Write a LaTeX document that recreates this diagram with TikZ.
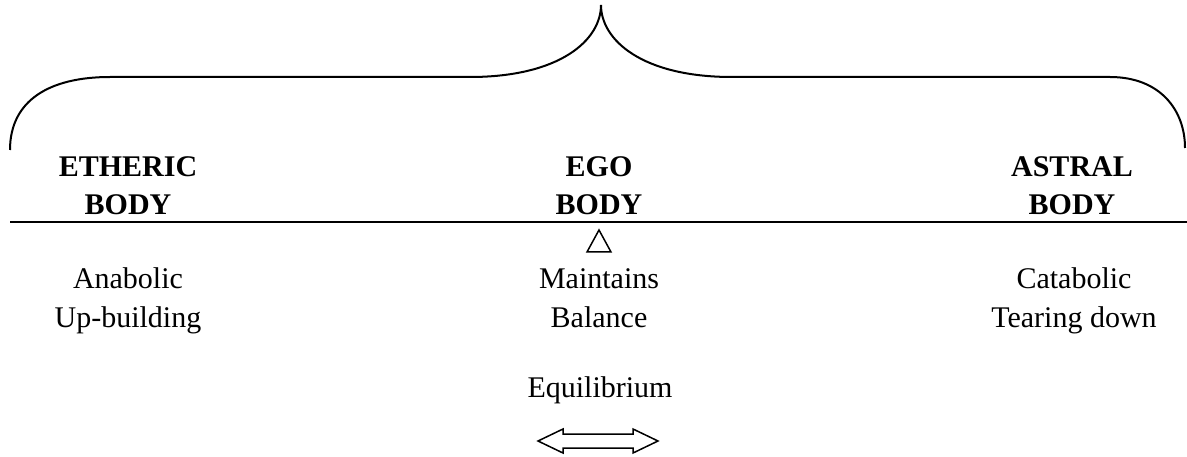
\documentclass[tikz,border=0pt]{standalone}
\usepackage{fontspec}
\setmainfont{Liberation Serif}
\usetikzlibrary{positioning}

\begin{document}
\begin{tikzpicture}[x=1pt, y=-1pt,
  head/.style={font=\fontsize{30}{38}\selectfont\bfseries, align=center,
               anchor=base, inner sep=0pt},
  role/.style={font=\fontsize{30}{39}\selectfont, align=center,
               anchor=base, inner sep=0pt},
  rule/.style={line width=2pt},
]
\useasboundingbox (0,0) rectangle (1187,457);

% brace over the three bodies
\draw[rule] (10,150) .. controls (10,100) and (50,77) .. (110,77) -- (470,77)
  .. controls (560,77) and (601,40) .. (601,5)
  .. controls (601,40) and (642,77) .. (732,77) -- (1110,77)
  .. controls (1160,77) and (1185,110) .. (1185,148);

\node[head] (etheric) at (128,215) {ETHERIC\\BODY};
\node[head] (ego) at (599,215) {EGO\\BODY};
\node[head] (astral) at (1072,215) {ASTRAL\\BODY};

% balance beam with fulcrum
\draw[rule] (10,222) -- (1187,222);
\draw[line width=1.5pt] (587,252) -- (611,252) -- (599,230) -- cycle;

\node[role] (anabolic) at (128,327) {Anabolic\\Up-building};
\node[role] (maintains) at (599,327) {Maintains\\Balance};
\node[role] (catabolic) at (1074,327) {Catabolic\\Tearing down};
\node[role] (equil) at (600,397) {Equilibrium};

% double arrow
\draw[line width=1.5pt] (538,441) -- (563,429) -- (563,434) -- (633,434)
  -- (633,429) -- (658,441) -- (633,453) -- (633,448) -- (563,448)
  -- (563,453) -- cycle;
\end{tikzpicture}
\end{document}
